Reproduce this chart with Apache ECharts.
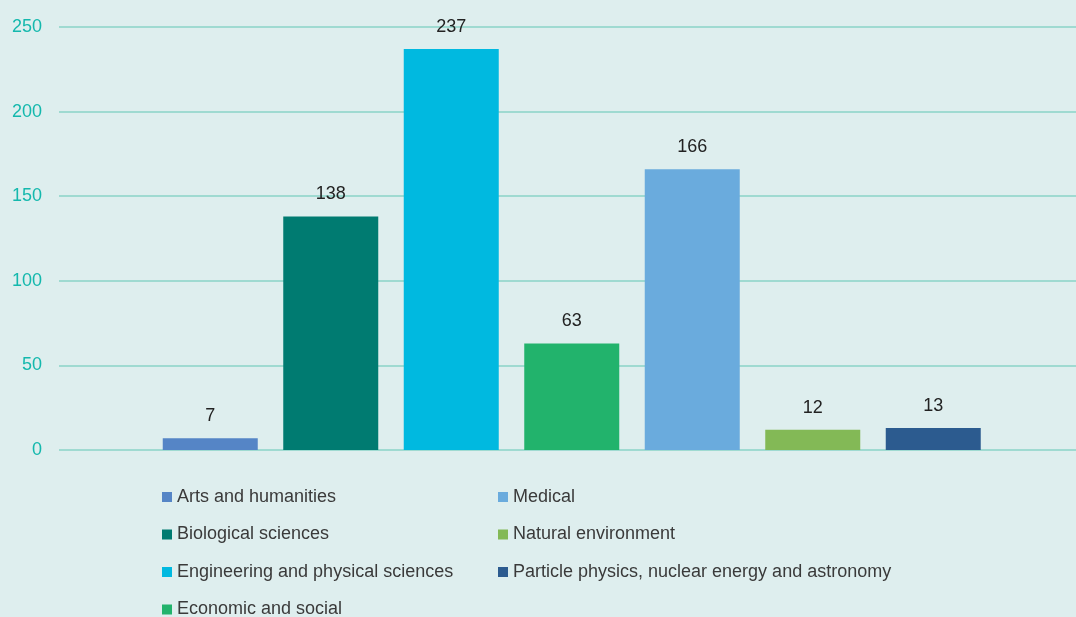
<!DOCTYPE html>
<html>
<head>
<meta charset="utf-8">
<script src="https://cdn.jsdelivr.net/npm/echarts@6/dist/echarts.min.js"></script>
<style>
html,body{margin:0;padding:0;background:#deeeee;}
#c{width:1076px;height:617px;}
</style>
</head>
<body>
<div id="c"></div>
<script>
var categories = ['Arts and humanities','Biological sciences','Engineering and physical sciences','Economic and social','Medical','Natural environment','Particle physics, nuclear energy and astronomy'];
var values = [7, 138, 237, 63, 166, 12, 13];
var colors = ['#5585c6','#007b71','#00b9e0','#22b36c','#6aabdd','#83b956','#2c5b8f'];
var yTicks = [0, 50, 100, 150, 200, 250];

var FONT = '"Liberation Sans", Arial, sans-serif';
var series = categories.map(function (name, i) {
  var d = categories.map(function (c, j) { return j === i ? values[i] : '-'; });
  return {
    name: name,
    type: 'bar',
    xAxisIndex: 0,
    yAxisIndex: 0,
    barWidth: 95,
    barGap: '-100%',
    data: d,
    itemStyle: { color: colors[i] },
    label: { show: true, position: 'top', distance: 13, color: '#222', fontSize: 18, fontFamily: FONT }
  };
});

var legendCommon = {
  orient: 'vertical', top: 488, height: 300, padding: 0,
  itemWidth: 10, itemHeight: 10, icon: 'rect',
  itemGap: 19.5, itemTextGap: 7,
  textStyle: { color: '#3a3a3a', fontSize: 18, lineHeight: 18, fontFamily: FONT }
};

var chart = echarts.init(document.getElementById('c'));
chart.setOption({
  backgroundColor: '#deeeee',
  animation: false,
  textStyle: { fontFamily: FONT },
  grid: [
    { left: 150, right: 82.5, top: 27, bottom: 167 },
    { left: 59, right: 0, top: 27, bottom: 167 }
  ],
  xAxis: [
    { type: 'category', gridIndex: 0, data: categories, show: false },
    { type: 'value', gridIndex: 1, min: 0, max: 1, show: false }
  ],
  yAxis: [
    { type: 'value', gridIndex: 0, min: yTicks[0], max: yTicks[yTicks.length - 1], interval: 50, show: false },
    { type: 'value', gridIndex: 1, min: yTicks[0], max: yTicks[yTicks.length - 1], interval: 50,
      axisLine: { show: false }, axisTick: { show: false },
      axisLabel: { color: '#14b8ad', fontSize: 18, fontFamily: FONT, margin: 17 },
      splitLine: { lineStyle: { color: '#9fdad1', width: 2 } } }
  ],
  legend: [
    Object.assign({ data: categories.slice(0, 4), left: 162 }, legendCommon),
    Object.assign({ data: categories.slice(4), left: 498 }, legendCommon)
  ],
  series: series
});
</script>
</body>
</html>
